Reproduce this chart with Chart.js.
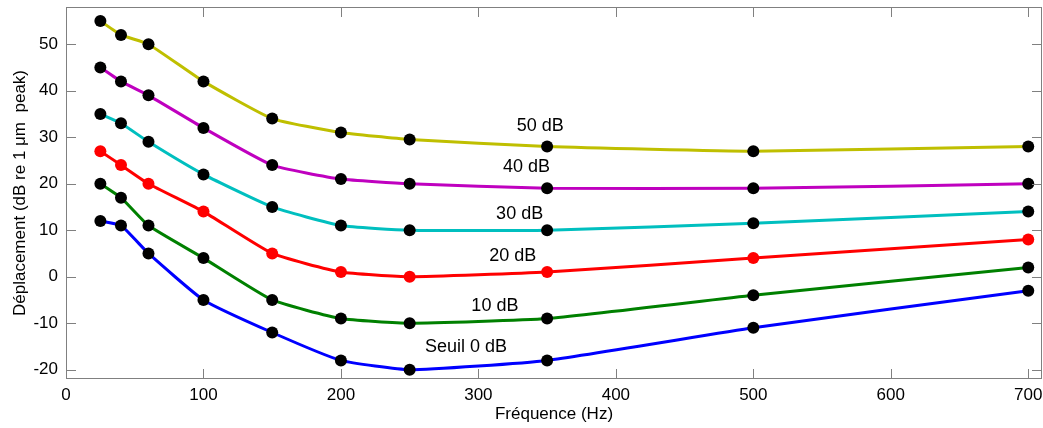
<!DOCTYPE html>
<html>
<head>
<meta charset="utf-8">
<script src="https://cdn.jsdelivr.net/npm/chart.js@4"></script>
<style>
  html, body { margin: 0; padding: 0; background: #fff; }
  #wrap { width: 1043px; height: 428px; }
</style>
</head>
<body>
<div id="wrap"><canvas id="chartSeuil" width="1043" height="428"></canvas></div>
<script>
// Fréquences (Hz)
const frequences = [25, 40, 60, 100, 150, 200, 250, 350, 500, 700];

// Courbes (dB re 1 µm peak)
const seuil0 = [12, 11, 5, -5, -12, -18, -20, -18, -11, -3];
const niveau10 = [20, 17, 11, 4, -5, -9, -10, -9, -4, 2];
const niveau20 = [27, 24, 20, 14, 5, 1, 0, 1, 4, 8];
const niveau30 = [35, 33, 29, 22, 15, 11, 10, 10, 11.5, 14];
const niveau40 = [45, 42, 39, 32, 24, 21, 20, 19, 19, 20];
const niveau50 = [55, 52, 50, 42, 34, 31, 29.5, 28, 27, 28];

const xTicks = [0, 100, 200, 300, 400, 500, 600, 700];
const yTicks = [-20, -10, 0, 10, 20, 30, 40, 50];

// Étiquettes des courbes (texte, x, y en unités de données)
const etiquettes = ['50 dB', '40 dB', '30 dB', '20 dB', '10 dB', 'Seuil 0 dB'];
const etiquettesX = [345, 335, 330, 325, 312, 291];
const etiquettesY = [32.5, 23.5, 13.4, 4.4, -6.3, -15.1];

const FONT = '"Liberation Sans", Arial, sans-serif';

function serie(valeurs, couleur, marqueur) {
    return {
        data: frequences.map((f, i) => ({ x: f, y: valeurs[i] })),
        borderColor: couleur,
        borderWidth: 3,
        pointRadius: 6,
        pointBackgroundColor: marqueur,
        pointBorderColor: marqueur,
        pointBorderWidth: 0,
        tension: 0.15,
        fill: false
    };
}

function sansPadding(s) {
    s.paddingTop = 0;
    s.paddingBottom = 0;
    s.paddingLeft = 0;
    s.paddingRight = 0;
}

// Ticks vers l'intérieur sur les quatre côtés + cadre
const cadrePlugin = {
    id: 'cadre',
    afterDraw(chart) {
        const ctx = chart.ctx;
        const a = chart.chartArea;
        const sx = chart.scales.x, sy = chart.scales.y;
        ctx.save();
        ctx.strokeStyle = '#808080';
        ctx.lineWidth = 1;
        ctx.strokeRect(a.left + 0.5, a.top + 0.5, a.right - a.left - 1, a.bottom - a.top - 1);
        ctx.beginPath();
        xTicks.forEach(v => {
            const px = Math.round(sx.getPixelForValue(v)) + 0.5;
            ctx.moveTo(px, a.bottom); ctx.lineTo(px, a.bottom - 10);
            ctx.moveTo(px, a.top); ctx.lineTo(px, a.top + 10);
        });
        yTicks.forEach(v => {
            const py = Math.round(sy.getPixelForValue(v)) + 0.5;
            ctx.moveTo(a.left, py); ctx.lineTo(a.left + 10, py);
            ctx.moveTo(a.right, py); ctx.lineTo(a.right - 10, py);
        });
        ctx.stroke();

        ctx.fillStyle = '#000';
        ctx.font = '18px ' + FONT;
        ctx.textAlign = 'center';
        ctx.textBaseline = 'middle';
        etiquettes.forEach((t, i) => {
            ctx.fillText(t, sx.getPixelForValue(etiquettesX[i]), sy.getPixelForValue(etiquettesY[i]));
        });
        ctx.restore();
    }
};

const ctx = document.getElementById('chartSeuil').getContext('2d');
new Chart(ctx, {
    type: 'line',
    data: {
        datasets: [
            serie(niveau50, '#BFBF00', '#000'),
            serie(niveau40, '#BF00BF', '#000'),
            serie(niveau30, '#00BFBF', '#000'),
            serie(niveau20, '#FF0000', '#FF0000'),
            serie(niveau10, '#008000', '#000'),
            serie(seuil0, '#0000FF', '#000')
        ]
    },
    options: {
        responsive: false,
        animation: false,
        layout: { autoPadding: false, padding: { top: 7, right: 1, left: 0, bottom: 0 } },
        plugins: {
            legend: { display: false },
            tooltip: { enabled: false }
        },
        scales: {
            x: {
                type: 'linear',
                min: 0,
                max: 710,
                afterBuildTicks: s => { s.ticks = xTicks.map(v => ({ value: v })); },
                afterFit: s => { s.height = 49; sansPadding(s); },
                grid: { display: false, drawTicks: false },
                border: { display: false },
                ticks: { color: '#000', font: { family: FONT, size: 17 }, padding: 6, maxRotation: 0 },
                title: {
                    display: true,
                    text: 'Fréquence (Hz)',
                    color: '#000',
                    font: { family: FONT, size: 17 },
                    padding: { top: 0, bottom: 3 }
                }
            },
            y: {
                type: 'linear',
                min: -22,
                max: 58,
                afterBuildTicks: s => { s.ticks = yTicks.map(v => ({ value: v })); },
                afterFit: s => { s.width = 66; sansPadding(s); },
                grid: { display: false, drawTicks: false },
                border: { display: false },
                ticks: { color: '#000', font: { family: FONT, size: 17 }, padding: 8 },
                title: {
                    display: true,
                    text: 'Déplacement (dB re 1 \u03bcm  peak)',
                    color: '#000',
                    font: { family: FONT, size: 17 },
                    padding: { top: 10, bottom: 0 }
                }
            }
        }
    },
    plugins: [cadrePlugin]
});
</script>
</body>
</html>
